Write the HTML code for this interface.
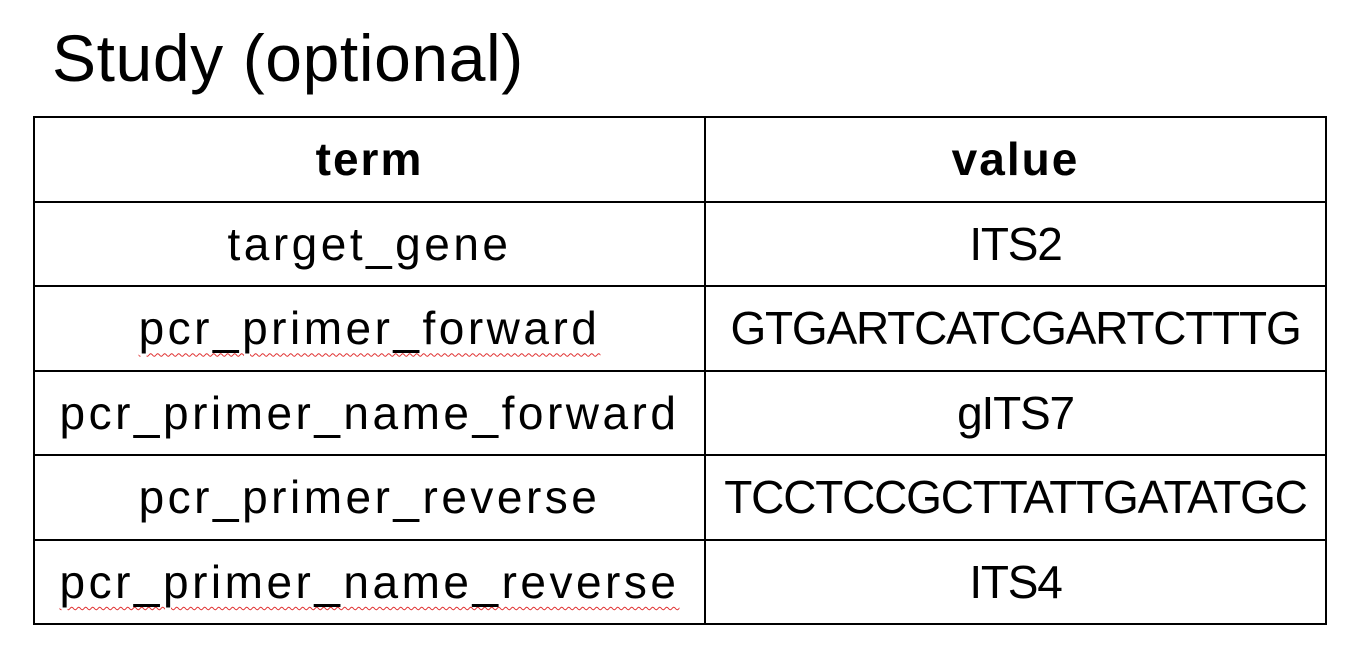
<!DOCTYPE html>
<html><head><meta charset="utf-8"><style>
html,body{margin:0;padding:0;background:#fff;width:1352px;height:654px;overflow:hidden}
body{font-family:"Liberation Sans",sans-serif;color:#000;position:relative}
.t{position:absolute;left:52px;top:18px;font-size:66px;line-height:80px;white-space:nowrap;letter-spacing:0.6px}
table{position:absolute;left:33px;top:116px;border-collapse:collapse;table-layout:fixed}
td,th{border:2px solid #000;height:82.5px;padding:0;text-align:center;font-size:46px;white-space:nowrap;overflow:hidden}
td.a{letter-spacing:3.5px}
td.b{letter-spacing:-1.2px}
th{letter-spacing:2px}
.s{text-decoration:underline wavy #e03030;text-decoration-thickness:1px;text-underline-offset:8px}
</style></head><body>
<div class="t">Study (optional)</div>
<table>
<tr><th style="width:669px">term</th><th style="width:619px">value</th></tr>
<tr><td class="a">target_gene</td><td class="b">ITS2</td></tr>
<tr><td class="a"><span class="s">pcr_primer_forward</span></td><td class="b">GTGARTCATCGARTCTTTG</td></tr>
<tr><td class="a">pcr_primer_name_forward</td><td class="b">gITS7</td></tr>
<tr><td class="a">pcr_primer_reverse</td><td class="b">TCCTCCGCTTATTGATATGC</td></tr>
<tr><td class="a"><span class="s">pcr_primer_name_reverse</span></td><td class="b">ITS4</td></tr>
</table>
</body></html>
